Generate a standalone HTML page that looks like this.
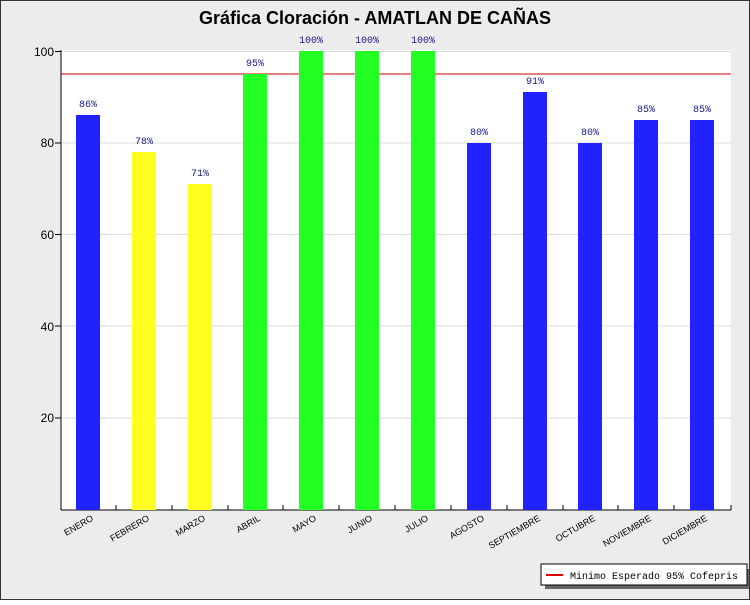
<!DOCTYPE html>
<html><head><style>
body{margin:0;}
</style></head><body>
<svg width="750" height="600" xmlns="http://www.w3.org/2000/svg" font-family="Liberation Sans, sans-serif">
<rect x="0" y="0" width="750" height="600" fill="#ececec"/>
<rect x="0.5" y="0.5" width="749" height="599" fill="none" stroke="#333"/>
<text x="375" y="24" text-anchor="middle" font-size="18" font-weight="bold" fill="#000">Gráfica Cloración - AMATLAN DE CAÑAS</text>
<rect x="61" y="50" width="670" height="460" fill="#fff"/>
<g stroke="#ddd" stroke-width="1">
<line x1="61" x2="731" y1="51.5" y2="51.5"/>
<line x1="61" x2="731" y1="143" y2="143"/>
<line x1="61" x2="731" y1="234.5" y2="234.5"/>
<line x1="61" x2="731" y1="326" y2="326"/>
<line x1="61" x2="731" y1="418" y2="418"/>
</g>
<g font-size="12" fill="#000" text-anchor="end">
<text x="54" y="56">100</text><text x="54" y="147">80</text><text x="54" y="239">60</text><text x="54" y="331">40</text><text x="54" y="422">20</text>
</g>
<g stroke="#000">
<line x1="55" x2="61" y1="51.5" y2="51.5"/><line x1="55" x2="61" y1="143" y2="143"/><line x1="55" x2="61" y1="234.5" y2="234.5"/><line x1="55" x2="61" y1="326" y2="326"/><line x1="55" x2="61" y1="418" y2="418"/>
<line x1="61" x2="61" y1="50" y2="510"/>
<line x1="61" x2="731" y1="510" y2="510"/>
<line x1="731" x2="731" y1="505" y2="510"/>
</g>
<line x1="61" x2="731" y1="74" y2="74" stroke="#cc0000" stroke-width="1"/>
<g font-family="Liberation Mono, monospace" font-size="10" fill="#1a1a8c" text-anchor="middle">
<rect x="76" y="115" width="24" height="395" fill="#2222ff"/><text x="88" y="107">86%</text>
<rect x="132" y="152" width="24" height="358" fill="#ffff22"/><text x="144" y="144">78%</text>
<rect x="188" y="184" width="24" height="326" fill="#ffff22"/><text x="200" y="176">71%</text>
<rect x="243" y="74" width="24" height="436" fill="#22ff22"/><text x="255" y="66">95%</text>
<rect x="299" y="51" width="24" height="459" fill="#22ff22"/><text x="311" y="43">100%</text>
<rect x="355" y="51" width="24" height="459" fill="#22ff22"/><text x="367" y="43">100%</text>
<rect x="411" y="51" width="24" height="459" fill="#22ff22"/><text x="423" y="43">100%</text>
<rect x="467" y="143" width="24" height="367" fill="#2222ff"/><text x="479" y="135">80%</text>
<rect x="523" y="92" width="24" height="418" fill="#2222ff"/><text x="535" y="84">91%</text>
<rect x="578" y="143" width="24" height="367" fill="#2222ff"/><text x="590" y="135">80%</text>
<rect x="634" y="120" width="24" height="390" fill="#2222ff"/><text x="646" y="112">85%</text>
<rect x="690" y="120" width="24" height="390" fill="#2222ff"/><text x="702" y="112">85%</text>
</g>
<g stroke="#000">
<line x1="116" x2="116" y1="505" y2="510"/><line x1="172" x2="172" y1="505" y2="510"/><line x1="228" x2="228" y1="505" y2="510"/><line x1="283" x2="283" y1="505" y2="510"/><line x1="339" x2="339" y1="505" y2="510"/><line x1="395" x2="395" y1="505" y2="510"/><line x1="451" x2="451" y1="505" y2="510"/><line x1="507" x2="507" y1="505" y2="510"/><line x1="563" x2="563" y1="505" y2="510"/><line x1="618" x2="618" y1="505" y2="510"/><line x1="674" x2="674" y1="505" y2="510"/>
</g>
<g font-size="9" fill="#000" text-anchor="end">
<text transform="translate(94,520) rotate(-30)">ENERO</text>
<text transform="translate(150,520) rotate(-30)">FEBRERO</text>
<text transform="translate(206,520) rotate(-30)">MARZO</text>
<text transform="translate(261,520) rotate(-30)">ABRIL</text>
<text transform="translate(317,520) rotate(-30)">MAYO</text>
<text transform="translate(373,520) rotate(-30)">JUNIO</text>
<text transform="translate(429,520) rotate(-30)">JULIO</text>
<text transform="translate(485,520) rotate(-30)">AGOSTO</text>
<text transform="translate(541,520) rotate(-30)">SEPTIEMBRE</text>
<text transform="translate(596,520) rotate(-30)">OCTUBRE</text>
<text transform="translate(652,520) rotate(-30)">NOVIEMBRE</text>
<text transform="translate(708,520) rotate(-30)">DICIEMBRE</text>
</g>
<rect x="545" y="569" width="204" height="20" fill="#666"/>
<rect x="541" y="564" width="206" height="21" fill="#fff" stroke="#000"/>
<line x1="546" x2="563" y1="575" y2="575" stroke="#e00000" stroke-width="2"/>
<text x="570" y="579" font-family="Liberation Mono, monospace" font-size="10" textLength="168" lengthAdjust="spacingAndGlyphs" fill="#000">Minimo Esperado 95% Cofepris</text>
</svg>
</body></html>
